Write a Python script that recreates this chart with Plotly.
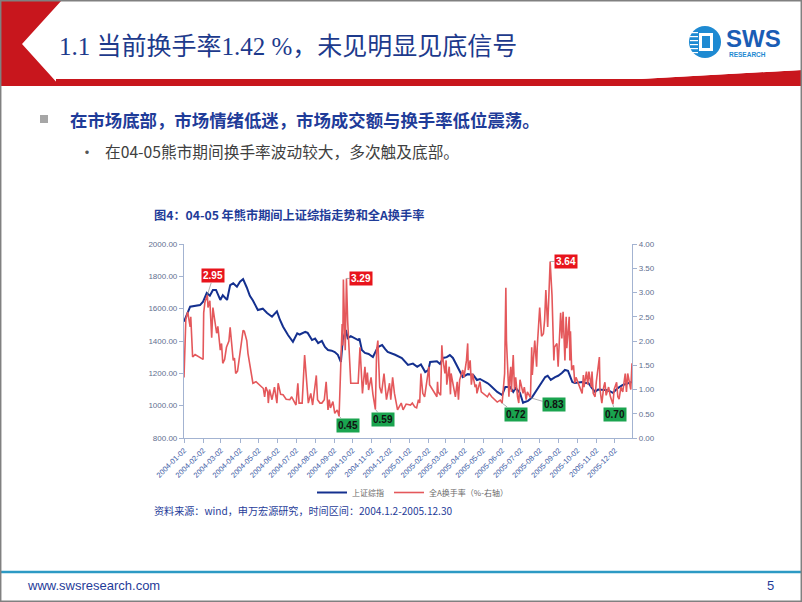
import plotly.graph_objects as go

# ---------------- data ----------------
blue_dates = ["2004-01-02","2004-01-12","2004-01-28","2004-02-02","2004-02-08","2004-02-13","2004-02-18","2004-02-23",
              "2004-03-01","2004-03-05","2004-03-12","2004-03-17","2004-03-22","2004-03-28","2004-04-02","2004-04-07",
              "2004-04-13","2004-04-18","2004-04-23","2004-05-01","2004-05-09","2004-05-16","2004-05-24","2004-06-01",
              "2004-06-06","2004-06-11","2004-06-19","2004-06-27","2004-07-04","2004-07-08","2004-07-17","2004-07-21",
              "2004-07-28","2004-08-02","2004-08-07","2004-08-13","2004-08-18","2004-08-23","2004-08-29","2004-09-03",
              "2004-09-08","2004-09-13","2004-09-16","2004-09-21","2004-09-24","2004-09-29","2004-10-11","2004-10-13",
              "2004-10-17","2004-10-22","2004-10-28","2004-11-04","2004-11-12","2004-11-19","2004-11-24","2004-11-28",
              "2004-12-10","2004-12-21","2004-12-31","2005-01-08","2005-01-15","2005-01-21","2005-01-28","2005-02-02",
              "2005-02-05","2005-02-16","2005-02-21","2005-02-26","2005-03-04","2005-03-09","2005-03-14","2005-03-21",
              "2005-03-25","2005-03-30","2005-04-07","2005-04-16","2005-04-22","2005-04-27","2005-05-09","2005-05-13",
              "2005-05-25","2005-06-02","2005-06-07","2005-06-15","2005-06-20","2005-06-24","2005-07-01","2005-07-06",
              "2005-07-09","2005-07-14","2005-07-20","2005-07-25","2005-07-30","2005-08-04","2005-08-11","2005-08-15",
              "2005-08-20","2005-08-27","2005-09-01","2005-09-07","2005-09-12","2005-09-17","2005-09-24","2005-09-28",
              "2005-10-10","2005-10-14","2005-10-20","2005-10-26","2005-10-31","2005-11-05","2005-11-13","2005-11-21",
              "2005-11-29","2005-12-07","2005-12-15","2005-12-24","2005-12-30"]
blue_vals = [1520,1612,1622,1643,1697,1680,1716,1716,
             1654,1683,1654,1746,1757,1736,1767,1783,
             1731,1680,1650,1592,1600,1573,1550,1583,
             1530,1488,1437,1395,1448,1440,1456,1450,
             1406,1415,1387,1400,1363,1344,1340,1332,
             1315,1270,1406,1468,1418,1430,1406,1415,
             1344,1326,1320,1301,1363,1375,1350,1332,
             1315,1295,1252,1260,1240,1255,1208,1220,
             1270,1275,1258,1295,1300,1313,1295,1240,
             1208,1177,1195,1190,1159,1165,1140,1128,
             1085,1066,1116,1116,1085,1110,1079,1017,
             1023,1030,1048,1079,1109,1140,1177,1185,
             1160,1177,1185,1202,1221,1215,1146,1140,
             1146,1140,1140,1109,1085,1100,1097,1095,
             1079,1109,1128,1140,1146]

red_dates = ["2004-01-02","2004-01-05","2004-01-08","2004-01-12","2004-01-13","2004-01-16","2004-01-20","2004-02-02",
             "2004-02-03","2004-02-05","2004-02-09","2004-02-10","2004-02-13","2004-02-16","2004-02-18","2004-02-20",
             "2004-02-24","2004-02-26","2004-03-01","2004-03-03","2004-03-05","2004-03-08","2004-03-11","2004-03-15",
             "2004-03-17","2004-03-19","2004-03-22","2004-03-24","2004-03-26","2004-03-29","2004-04-02","2004-04-05",
             "2004-04-07","2004-04-09","2004-04-13","2004-04-15","2004-04-19","2004-04-21","2004-04-23","2004-04-28",
             "2004-05-10","2004-05-12","2004-05-14","2004-05-17","2004-05-18","2004-05-20","2004-05-24","2004-05-28",
             "2004-06-01","2004-06-03","2004-06-07","2004-06-11","2004-06-16","2004-06-22","2004-06-25","2004-07-02",
             "2004-07-05","2004-07-07","2004-07-12","2004-07-16","2004-07-20","2004-07-22","2004-07-26","2004-07-29",
             "2004-08-04","2004-08-06","2004-08-10","2004-08-13","2004-08-17","2004-08-20","2004-08-23","2004-08-25",
             "2004-08-27","2004-08-31","2004-09-03","2004-09-07","2004-09-10","2004-09-14","2004-09-15","2004-09-16",
             "2004-09-17","2004-09-20","2004-09-22","2004-09-24","2004-09-29","2004-10-11","2004-10-14","2004-10-18",
             "2004-10-22","2004-10-24","2004-10-26","2004-10-28","2004-11-01","2004-11-04","2004-11-08","2004-11-10",
             "2004-11-12","2004-11-15","2004-11-18","2004-11-22","2004-11-23","2004-11-26","2004-12-01","2004-12-03",
             "2004-12-06","2004-12-09","2004-12-14","2004-12-20","2004-12-23","2004-12-28","2005-01-04","2005-01-07",
             "2005-01-11","2005-01-14","2005-01-17","2005-01-19","2005-01-21","2005-01-24","2005-01-27","2005-02-01",
             "2005-02-03","2005-02-04","2005-02-16","2005-02-17","2005-02-18","2005-02-22","2005-02-24","2005-02-25",
             "2005-03-01","2005-03-03","2005-03-04","2005-03-08","2005-03-10","2005-03-11","2005-03-15","2005-03-18",
             "2005-03-21","2005-03-23","2005-03-25","2005-03-30","2005-04-01","2005-04-05","2005-04-07","2005-04-08",
             "2005-04-11","2005-04-13","2005-04-15","2005-04-19","2005-04-21","2005-04-22","2005-04-27","2005-04-29",
             "2005-05-09","2005-05-12","2005-05-16","2005-05-20","2005-05-25","2005-05-30","2005-06-02","2005-06-06",
             "2005-06-08","2005-06-09","2005-06-13","2005-06-14","2005-06-16","2005-06-17","2005-06-20","2005-06-22",
             "2005-06-24","2005-06-27","2005-06-29","2005-07-01","2005-07-04","2005-07-06","2005-07-08","2005-07-11",
             "2005-07-13","2005-07-18","2005-07-20","2005-07-21","2005-07-25","2005-07-28","2005-07-29","2005-08-02",
             "2005-08-05","2005-08-08","2005-08-10","2005-08-12","2005-08-15","2005-08-17","2005-08-19","2005-08-22",
             "2005-08-23","2005-08-25","2005-08-26","2005-08-30","2005-09-01","2005-09-05","2005-09-07","2005-09-09",
             "2005-09-12","2005-09-14","2005-09-15","2005-09-19","2005-09-20","2005-09-21","2005-09-23","2005-09-26",
             "2005-09-28","2005-09-30","2005-10-10","2005-10-12","2005-10-13","2005-10-17","2005-10-19","2005-10-21",
             "2005-10-25","2005-10-26","2005-10-28","2005-10-31","2005-11-02","2005-11-07","2005-11-08","2005-11-11",
             "2005-11-14","2005-11-16","2005-11-18","2005-11-22","2005-11-25","2005-11-29","2005-12-01","2005-12-05",
             "2005-12-07","2005-12-09","2005-12-12","2005-12-15","2005-12-19","2005-12-21","2005-12-23","2005-12-26",
             "2005-12-28","2005-12-30"]
red_vals = [1.25,2.45,2.60,2.29,2.50,1.67,1.72,1.62,
            2.58,2.80,2.95,2.69,2.83,2.07,2.69,2.49,
            2.16,2.30,1.81,1.95,1.54,1.62,1.87,2.00,
            2.28,2.01,1.60,1.65,1.33,1.38,1.81,2.07,
            2.22,2.20,2.01,1.74,1.47,1.29,1.13,1.16,
            1.02,0.85,1.05,0.95,0.72,1.00,0.79,1.05,
            0.72,1.13,0.90,0.89,0.80,0.79,0.85,0.68,
            1.13,0.72,0.72,1.71,1.13,0.72,0.92,0.68,
            1.29,0.79,0.72,0.72,0.79,1.16,0.58,0.79,
            0.62,0.75,0.51,0.58,0.45,2.22,2.35,1.91,
            3.27,1.81,3.29,2.40,1.13,1.13,1.87,0.92,
            1.47,1.10,1.35,0.99,1.25,0.90,0.59,1.81,
            2.01,1.05,0.92,1.33,1.20,0.79,1.13,0.79,
            1.25,0.92,0.58,0.72,0.58,0.70,0.68,0.72,
            0.64,0.62,0.79,0.72,1.33,0.92,0.85,1.33,
            1.47,1.10,0.85,1.16,0.95,0.88,1.91,1.70,
            1.33,1.60,1.10,1.47,0.90,1.33,1.00,0.85,
            1.16,0.79,1.20,1.40,1.25,1.60,1.95,1.40,
            1.60,1.10,1.33,1.05,1.10,0.92,1.16,0.95,
            0.85,0.92,0.85,0.80,0.74,0.78,0.72,1.33,
            3.10,2.01,0.85,1.20,1.47,0.95,1.71,1.00,
            1.25,0.85,0.72,1.20,1.05,0.92,1.05,0.79,
            0.95,0.83,1.87,1.30,2.01,1.47,1.87,2.69,
            2.10,2.15,2.43,3.05,2.29,3.00,3.64,2.95,
            2.22,1.60,1.87,1.95,1.47,2.58,2.05,2.60,
            1.60,2.50,1.85,2.50,1.60,2.20,1.40,1.50,
            1.13,1.25,0.92,1.30,1.05,1.37,1.10,1.37,
            1.05,1.37,0.92,0.85,1.16,1.67,1.00,0.72,
            1.05,1.15,0.88,1.05,0.85,0.70,1.00,1.15,
            0.85,0.80,1.05,0.95,1.33,0.95,1.33,1.10,
            1.00,1.54]

tick_labels = ["2004-01-02","2004-02-02","2004-03-02","2004-04-02","2004-05-02","2004-06-02",
               "2004-07-02","2004-08-02","2004-09-02","2004-10-02","2004-11-02","2004-12-02",
               "2005-01-02","2005-02-02","2005-03-02","2005-04-02","2005-05-02","2005-06-02",
               "2005-07-02","2005-08-02","2005-09-02","2005-10-02","2005-11-02","2005-12-02"]

label_dates = ["2004-02-09","2004-09-22","2005-08-19","2004-09-10","2004-11-08","2005-06-02","2005-07-18","2005-11-29"]
label_vals = [2.95, 3.29, 3.64, 0.45, 0.59, 0.72, 0.83, 0.70]
label_high = [True, True, True, False, False, False, False, False]
label_offsets = [(6, -19), (15, 0), (16, 0), (9, 9), (8, 10), (14, 11), (24, 7), (2, 10)]

# ---------------- layout helpers ----------------
FW, FH = 802, 602
L, R, T, B = 184, 632, 244, 438
PW, PH = R - L, B - T

def px(x):
    return (x - L) / PW

def py(y):
    return (B - y) / PH

CJK = "Noto Sans CJK SC, Liberation Sans, sans-serif"

fig = go.Figure()
fig.add_trace(go.Scatter(x=blue_dates, y=blue_vals, mode="lines", name="上证综指",
                         line=dict(color="#14308F", width=2)))
fig.add_trace(go.Scatter(x=red_dates, y=red_vals, mode="lines", name="全A换手率（%-右轴）",
                         line=dict(color="#E4585B", width=1.6), yaxis="y2"))

ann = []
for d, v, hi, (ax, ay) in zip(label_dates, label_vals, label_high, label_offsets):
    ann.append(dict(x=d, y=v, xref="x", yref="y2", text="<b>%.2f</b>" % v,
                    showarrow=True, arrowhead=0, arrowwidth=0.7, arrowcolor="#8C8C8C",
                    ax=ax, ay=ay, standoff=0,
                    bgcolor="#E8141C" if hi else "#1AA44F", borderpad=1,
                    font=dict(family="Liberation Sans, Arial", size=10,
                              color="white" if hi else "#111111")))

def text(x, y, s, size, color, family=CJK, anchor="left"):
    ann.append(dict(x=px(x), y=py(y), xref="paper", yref="paper", text=s, showarrow=False,
                    xanchor=anchor, yanchor="middle", font=dict(family=family, size=size, color=color)))

text(57, 46, "1.1 当前换手率1.42 %，未见明显见底信号", 25, "#1D3A8C",
     family="Liberation Serif, Noto Sans CJK SC, serif")
text(68, 119, "<b>在市场底部，市场情绪低迷，市场成交额与换手率低位震荡。</b>", 17.4, "#1F3C99")
text(77, 151, "•", 16, "#555555")
text(103, 151, "在04-05熊市期间换手率波动较大，多次触及底部。", 15.7, "#404040")
text(152, 215, "<b>图4：04-05 年熊市期间上证综指走势和全A换手率</b>", 12.2, "#1F3C99")
text(152, 510, "资料来源：wind，申万宏源研究，时间区间：2004.1.2-2005.12.30", 10.1, "#1F3C99")
text(25, 585, "www.swsresearch.com", 13, "#1F3C99", family="Liberation Sans Narrow, Liberation Sans")
text(765, 585, "5", 13, "#1F3C99", family="Liberation Sans")
text(724, 38, "<b>SWS</b>", 24, "#1A5DB5", family="Liberation Sans, Arial")
text(727, 55, "<b>RESEARCH</b>", 6.5, "#1E8AD2", family="Liberation Sans, Arial")

shapes = []
def rect(x0, y0, x1, y1, fill, line=None, lw=0, layer="above"):
    shapes.append(dict(type="rect", xref="paper", yref="paper", x0=px(x0), x1=px(x1), y0=py(y0), y1=py(y1),
                       fillcolor=fill, line=dict(color=line or fill, width=lw), layer=layer))

def poly(pts, fill):
    p = "M " + " L ".join("%f,%f" % (px(a), py(b)) for a, b in pts) + " Z"
    shapes.append(dict(type="path", xref="paper", yref="paper", path=p, fillcolor=fill,
                       line=dict(width=0), layer="above"))

RED = "#C8161D"
# header chevron and band
poly([(0, 0), (62, 0), (22, 44), (60, 86), (0, 86)], RED)
poly([(56, 79), (640, 79), (802, 70), (802, 86), (56, 86)], RED)
poly([(640, 78), (802, 68.5), (802, 70), (640, 79)], "white")
# bullet square
rect(40, 115, 48, 123, "#A6A6A6")
# logo
shapes.append(dict(type="circle", xref="paper", yref="paper", x0=px(689), x1=px(721), y0=py(58), y1=py(26),
                   fillcolor="#1E8AD2", line=dict(width=0), layer="above"))
rect(699, 33, 713, 51, "white")
rect(702, 36, 710, 48, "#1E8AD2")
for yy in (32, 36, 40, 44, 48, 52):
    rect(690, yy, 698, yy + 1.2, "white")
# footer line
shapes.append(dict(type="line", xref="paper", yref="paper", x0=px(0), x1=px(802), y0=py(572), y1=py(572),
                   line=dict(color="#2C9AC4", width=2.5), layer="above"))
# slide border
rect(0.7, 0.7, 801.3, 601.3, "rgba(0,0,0,0)", line="#808080", lw=1.5)

AX = "#A3B3D1"
fig.update_layout(
    width=FW, height=FH, autosize=False,
    margin=dict(l=L, r=FW - R, t=T, b=FH - B, pad=0),
    paper_bgcolor="white", plot_bgcolor="white",
    font=dict(family=CJK),
    showlegend=True,
    legend=dict(orientation="h", x=px(312), y=py(478), xanchor="left", yanchor="top",
                font=dict(size=8, color="#6A6A6A"), bgcolor="rgba(0,0,0,0)", itemwidth=30,
                tracegroupgap=0),
    xaxis=dict(type="date", range=["2004-01-02", "2005-12-30"], tickvals=tick_labels, ticktext=tick_labels,
               tickangle=-45, tickfont=dict(family="Liberation Sans, Arial", size=7.5, color="#3B5BA5"),
               showline=True, linecolor=AX, linewidth=1.2, ticks="outside", ticklen=4, tickcolor=AX,
               showgrid=False, zeroline=False),
    yaxis=dict(range=[800, 2000], dtick=200, tickformat=".2f",
               tickfont=dict(family="Liberation Sans, Arial", size=8, color="#5F6F90"),
               showline=True, linecolor=AX, linewidth=1.2, ticks="outside", ticklen=4, tickcolor=AX,
               showgrid=False, zeroline=False),
    yaxis2=dict(range=[0, 4], dtick=0.5, tickformat=".2f", overlaying="y", side="right",
                tickfont=dict(family="Liberation Sans, Arial", size=8, color="#5F6F90"),
                showline=True, linecolor=AX, linewidth=1.2, ticks="outside", ticklen=4, tickcolor=AX,
                showgrid=False, zeroline=False),
    annotations=ann,
    shapes=shapes,
)

fig.write_html("out.html")
